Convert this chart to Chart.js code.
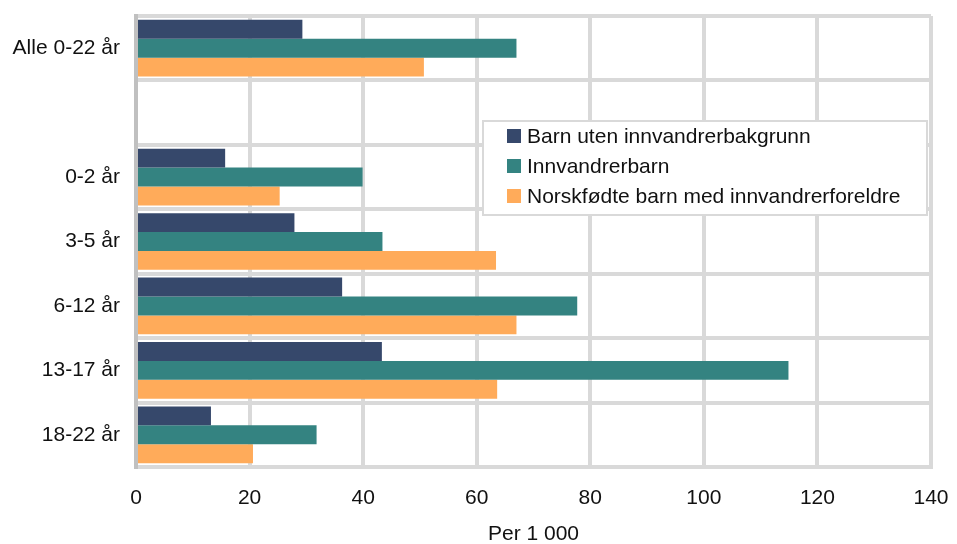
<!DOCTYPE html>
<html>
<head>
<meta charset="utf-8">
<script src="https://cdn.jsdelivr.net/npm/chart.js@4"></script>
<style>
  html, body { margin: 0; padding: 0; background: #fff; }
  #wrap { width: 957px; height: 544px; }
</style>
</head>
<body>
<div id="wrap"><canvas id="chart"></canvas></div>
<script>
// categories (empty one is the gap below "Alle")
const categories = ['Alle 0-22 år', '', '0-2 år', '3-5 år', '6-12 år', '13-17 år', '18-22 år'];
const utenBakgrunn = [29.3, null, 15.7, 27.9, 36.3, 43.3, 13.2];
const innvandrerbarn = [67.0, null, 39.9, 43.4, 77.7, 114.9, 31.8];
const norskfodte = [50.7, null, 25.3, 63.4, 67.0, 63.6, 20.6];
const seriesNames = ['Barn uten innvandrerbakgrunn', 'Innvandrerbarn', 'Norskfødte barn med innvandrerforeldre'];
const seriesColors = ['#36486b', '#348381', '#ffab5a'];
const xTitle = 'Per 1 000';

const font = "'Liberation Sans', Arial, sans-serif";
const fontSize = 21;

// legend box drawn inside the plot area
const boxLegend = {
  id: 'boxLegend',
  afterDraw(chart) {
    const c = chart.ctx;
    const x = 483, y = 121, w = 444, h = 94;
    c.save();
    c.fillStyle = '#fff';
    c.fillRect(x, y, w, h);
    c.strokeStyle = '#d9d9d9';
    c.lineWidth = 2;
    c.strokeRect(x, y, w, h);
    c.font = fontSize + 'px ' + font;
    c.textBaseline = 'middle';
    chart.data.datasets.forEach((ds, i) => {
      const cy = 136 + i * 30;
      c.fillStyle = ds.backgroundColor;
      c.fillRect(507, cy - 7, 14, 14);
      c.fillStyle = '#111';
      c.fillText(ds.label, 527, cy + 1);
    });
    c.restore();
  }
};

const data = {
  labels: categories,
  datasets: [
    { label: seriesNames[0], data: utenBakgrunn, backgroundColor: seriesColors[0] },
    { label: seriesNames[1], data: innvandrerbarn, backgroundColor: seriesColors[1] },
    { label: seriesNames[2], data: norskfodte, backgroundColor: seriesColors[2] }
  ]
};

const config = {
  type: 'bar',
  data: data,
  options: {
    indexAxis: 'y',
    responsive: true,
    maintainAspectRatio: false,
    animation: false,
    categoryPercentage: 0.88,
    barPercentage: 1,
    layout: { padding: { top: 16, right: 26, left: 0, bottom: 0 } },
    plugins: {
      legend: { display: false },
      tooltip: { enabled: false }
    },
    scales: {
      x: {
        min: 0,
        max: 140,
        ticks: { stepSize: 20, color: '#111', font: { family: font, size: fontSize }, padding: 19 },
        grid: { color: '#d9d9d9', lineWidth: 4, drawTicks: false },
        border: { color: '#d9d9d9', width: 4 },
        title: { display: true, text: xTitle, color: '#111', font: { family: font, size: fontSize }, padding: { top: 16, bottom: -3 } },
        afterFit(scale) {
          scale.height = 77;
          scale.paddingLeft = 0;
          scale.paddingRight = 0;
        }
      },
      y: {
        ticks: { color: '#111', font: { family: font, size: fontSize }, padding: 16 },
        grid: { color: '#d9d9d9', lineWidth: 4, drawTicks: false },
        border: { color: '#c0c0c0', width: 4 },
        afterFit(scale) {
          scale.width = 136;
          scale.paddingTop = 0;
          scale.paddingBottom = 0;
        }
      }
    }
  },
  plugins: [boxLegend]
};

const myChart = new Chart(document.getElementById('chart'), config);
</script>
</body>
</html>
